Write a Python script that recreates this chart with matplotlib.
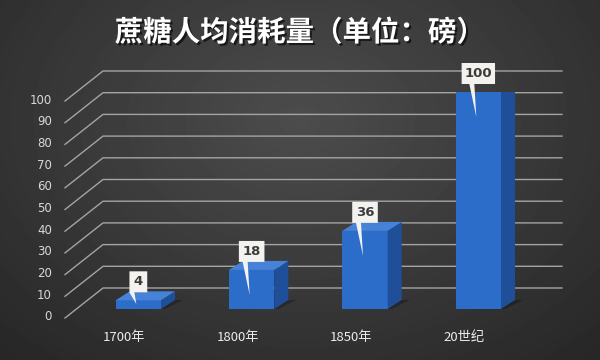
import numpy as np
import matplotlib.pyplot as plt
import matplotlib.patheffects as pe
from matplotlib.patches import Polygon
from matplotlib.transforms import IdentityTransform, offset_copy

plt.rcParams['font.family'] = ['Noto Sans CJK SC', 'DejaVu Sans']

title = '蔗糖人均消耗量（单位：磅）'
categories = ['1700年', '1800年', '1850年', '20世纪']
values = [4, 18, 36, 100]
yticks = list(range(0, 101, 10))

W, H = 600, 360
fig = plt.figure(figsize=(6, 3.6), dpi=100)

# radial grey background
bg = fig.add_axes([0, 0, 1, 1], zorder=-5)
yy, xx = np.mgrid[0:H, 0:W]
r = np.sqrt(((xx - 300) / 360.0) ** 2 + ((yy - 120) / 260.0) ** 2)
shade = np.clip(0.30 - 0.12 * r, 0.15, 0.30)
bg.imshow(shade, cmap='gray', vmin=0, vmax=1, aspect='auto')
bg.axis('off')

# main axes = plane of the bars' front faces
ax = fig.add_axes([76 / W, 51 / H, 459 / W, 217 / H])
ax.set_xlim(-0.55, 3.5)
ax.set_ylim(0, 100)
ax.axis('off')
x = np.arange(len(categories))
bw = 0.4

def disp(xv, yv, dx=0, dy=0):
    p = ax.transData.transform((xv, yv))
    return (p[0] + dx, p[1] + dy)

ident = IdentityTransform()
grid_c = '#a4a4a4'
x0, x1 = ax.get_xlim()
front = (-11, -9)
back = (27, 21)

# perspective grid
for v in yticks:
    a = disp(x0, v, *front)
    b = disp(x0, v, *back)
    c = disp(x1, v, *back)
    ax.plot([a[0], b[0], c[0]], [a[1], b[1], c[1]], color=grid_c, lw=1.0,
            transform=ident, clip_on=False, zorder=1)
    ax.text(x0, v, str(v), transform=offset_copy(ax.transData, fig, x=-24, y=-8, units='dots'),
            ha='right', va='center', color='#d8d8d8', fontsize=8.5, family='DejaVu Sans')

# bars with a soft floor shadow
depth = (14, 9)
for xi in x:
    sh = [disp(xi - bw / 2 - 0.03, 0, 0, -2), disp(xi + bw / 2, 0, 0, -2),
          disp(xi + bw / 2, 0, depth[0] + 8, depth[1]), disp(xi - bw / 2, 0, depth[0], depth[1])]
    ax.add_patch(Polygon(sh, closed=True, fc='black', alpha=0.25, ec='none',
                         transform=ident, zorder=2))
ax.bar(x, values, width=bw, color='#2d6dca', zorder=3)
for xi, v in zip(x, values):
    l, rr = xi - bw / 2, xi + bw / 2
    top = [disp(l, v), disp(rr, v), disp(rr, v, *depth), disp(l, v, *depth)]
    side = [disp(rr, 0), disp(rr, v), disp(rr, v, *depth), disp(rr, 0, *depth)]
    ax.add_patch(Polygon(side, closed=True, fc='#1f4f98', ec='none', transform=ident, zorder=3))
    ax.add_patch(Polygon(top, closed=True, fc='#4683d8', ec='none', transform=ident, zorder=3))

# category labels
for xi, cat in zip(x, categories):
    ax.text(xi, 0, cat, transform=offset_copy(ax.transData, fig, x=-14, y=-29, units='dots'),
            ha='center', va='center', color='#ececec', fontsize=9.5)

# callout labels
for xi, v in zip(x, values):
    s = str(v)
    w = 10 + 7.8 * len(s)
    cx, ty = disp(xi, v)
    by = ty + 8
    tip = min(25, ax.transData.transform((0, v))[1] - ax.transData.transform((0, 0))[1] - 5)
    shape = [(cx - w / 2, by), (cx - 9, by), (cx - 2, ty - tip), (cx - 4, by),
             (cx + w / 2, by), (cx + w / 2, by + 21), (cx - w / 2, by + 21)]
    ax.add_patch(Polygon(shape, closed=True, fc='#f3f2ee', ec='none', transform=ident,
                         zorder=5, clip_on=False))
    ax.text(cx, by + 10.5, s, transform=ident, ha='center', va='center', fontsize=9.5,
            weight='bold', color='#3c3c3c', family='DejaVu Sans', zorder=6)

fig.text(0.5, 0.908, title, ha='center', va='center', color='white', fontsize=20.5,
         weight='bold',
         path_effects=[pe.withSimplePatchShadow(offset=(1.5, -1.5), shadow_rgbFace='black', alpha=0.6)])

fig.savefig('out.png', dpi=100)
